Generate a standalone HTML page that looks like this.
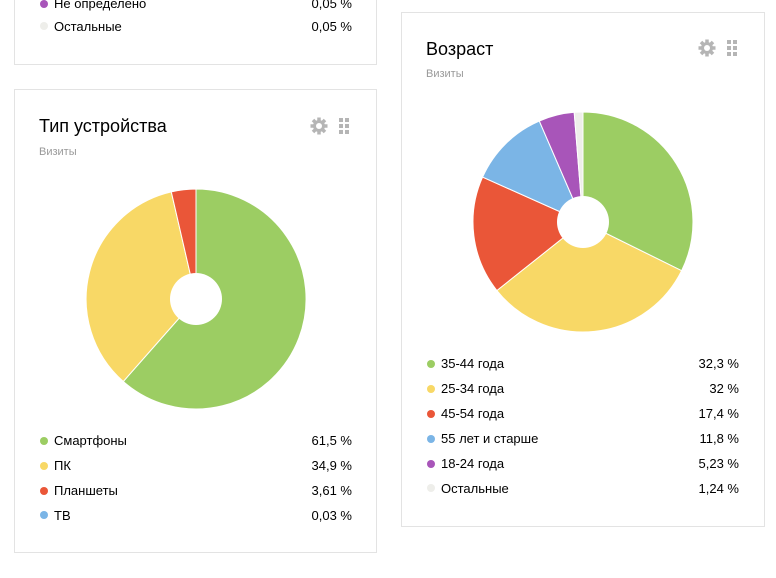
<!DOCTYPE html>
<html><head><meta charset="utf-8"><style>
body{margin:0;width:776px;height:578px;background:#fff;position:relative;overflow:hidden;font-family:"Liberation Sans","DejaVu Sans",sans-serif;color:#000}
.card{position:absolute;border:1px solid #e3e3e3;background:#fff;box-sizing:border-box}
.t{position:absolute;font-size:13px;white-space:nowrap;line-height:16px}
.v{position:absolute;font-size:13px;text-align:right;white-space:nowrap;line-height:16px}
.d{position:absolute;width:8px;height:8px;border-radius:50%}
.h{position:absolute;font-size:18px;line-height:22px}
.s{position:absolute;font-size:11px;color:#999;line-height:14px}
</style></head><body>
<div class="card" style="left:14px;top:-20px;width:363px;height:85px"></div>
<div class="card" style="left:14px;top:89px;width:363px;height:464px"></div>
<div class="card" style="left:401px;top:12px;width:364px;height:515px"></div>

<div class="d" style="left:40px;top:0px;background:#a855b9"></div>
<div class="t" style="left:54px;top:-4px">Не определено</div><div class="v" style="right:424px;top:-4px">0,05 %</div>
<div class="d" style="left:40px;top:22px;background:#eeeeea"></div>
<div class="t" style="left:54px;top:19px">Остальные</div><div class="v" style="right:424px;top:19px">0,05 %</div>

<div class="h" style="left:39px;top:115px">Тип устройства</div>
<div class="s" style="left:39px;top:145px">Визиты</div>
<div class="h" style="left:426px;top:38px">Возраст</div>
<div class="s" style="left:426px;top:67px">Визиты</div>

<svg width="776" height="578" style="position:absolute;left:0;top:0">
<g stroke="#fff" stroke-width="1">
<path d="M196,299 L196,189 A110,110 0 1 1 123.3,381.5 Z" fill="#9ccd63"/>
<path d="M196,299 L123.3,381.5 A110,110 0 0 1 171.3,191.9 Z" fill="#f8d866"/>
<path d="M196,299 L171.3,191.9 A110,110 0 0 1 196,189 Z" fill="#ea5638"/>
<path d="M583,222 L583,112 A110,110 0 0 1 681.6,270.7 Z" fill="#9ccd63"/>
<path d="M583,222 L681.6,270.7 A110,110 0 0 1 496.9,290.5 Z" fill="#f8d866"/>
<path d="M583,222 L496.9,290.5 A110,110 0 0 1 482.6,177.1 Z" fill="#ea5638"/>
<path d="M583,222 L482.6,177.1 A110,110 0 0 1 539.3,121 Z" fill="#7bb5e6"/>
<path d="M583,222 L539.3,121 A110,110 0 0 1 574.2,112.3 Z" fill="#a855b9"/>
<path d="M583,222 L574.2,112.3 A110,110 0 0 1 583,112 Z" fill="#eeeeea"/>
</g>
<circle cx="196" cy="299" r="26" fill="#fff"/>
<circle cx="583" cy="222" r="26" fill="#fff"/>
<g fill="#b5b5b5">
<g transform="translate(319,126)"><circle r="6"/><g stroke="#b5b5b5" stroke-width="3.5"><line x1="0" y1="-8.5" x2="0" y2="8.5"/><line x1="-8.5" y1="0" x2="8.5" y2="0"/><line x1="-6" y1="-6" x2="6" y2="6"/><line x1="-6" y1="6" x2="6" y2="-6"/></g><circle r="3" fill="#fff"/></g>
<rect x="339" y="118" width="4" height="4"/><rect x="345" y="118" width="4" height="4"/><rect x="339" y="124" width="4" height="4"/><rect x="345" y="124" width="4" height="4"/><rect x="339" y="130" width="4" height="4"/><rect x="345" y="130" width="4" height="4"/>
<g transform="translate(707,48)"><circle r="6"/><g stroke="#b5b5b5" stroke-width="3.5"><line x1="0" y1="-8.5" x2="0" y2="8.5"/><line x1="-8.5" y1="0" x2="8.5" y2="0"/><line x1="-6" y1="-6" x2="6" y2="6"/><line x1="-6" y1="6" x2="6" y2="-6"/></g><circle r="3" fill="#fff"/></g>
<rect x="727" y="40" width="4" height="4"/><rect x="733" y="40" width="4" height="4"/><rect x="727" y="46" width="4" height="4"/><rect x="733" y="46" width="4" height="4"/><rect x="727" y="52" width="4" height="4"/><rect x="733" y="52" width="4" height="4"/>
</g>
</svg>

<div class="d" style="left:40px;top:437px;background:#9ccd63"></div>
<div class="t" style="left:54px;top:433px">Смартфоны</div><div class="v" style="right:424px;top:433px">61,5 %</div>
<div class="d" style="left:40px;top:462px;background:#f8d866"></div>
<div class="t" style="left:54px;top:458px">ПК</div><div class="v" style="right:424px;top:458px">34,9 %</div>
<div class="d" style="left:40px;top:487px;background:#ea5638"></div>
<div class="t" style="left:54px;top:483px">Планшеты</div><div class="v" style="right:424px;top:483px">3,61 %</div>
<div class="d" style="left:40px;top:511px;background:#7bb5e6"></div>
<div class="t" style="left:54px;top:508px">ТВ</div><div class="v" style="right:424px;top:508px">0,03 %</div>

<div class="d" style="left:427px;top:360px;background:#9ccd63"></div>
<div class="t" style="left:441px;top:356px">35-44 года</div><div class="v" style="right:37px;top:356px">32,3 %</div>
<div class="d" style="left:427px;top:385px;background:#f8d866"></div>
<div class="t" style="left:441px;top:381px">25-34 года</div><div class="v" style="right:37px;top:381px">32 %</div>
<div class="d" style="left:427px;top:410px;background:#ea5638"></div>
<div class="t" style="left:441px;top:406px">45-54 года</div><div class="v" style="right:37px;top:406px">17,4 %</div>
<div class="d" style="left:427px;top:435px;background:#7bb5e6"></div>
<div class="t" style="left:441px;top:431px">55 лет и старше</div><div class="v" style="right:37px;top:431px">11,8 %</div>
<div class="d" style="left:427px;top:460px;background:#a855b9"></div>
<div class="t" style="left:441px;top:456px">18-24 года</div><div class="v" style="right:37px;top:456px">5,23 %</div>
<div class="d" style="left:427px;top:484px;background:#eeeeea"></div>
<div class="t" style="left:441px;top:481px">Остальные</div><div class="v" style="right:37px;top:481px">1,24 %</div>
</body></html>
